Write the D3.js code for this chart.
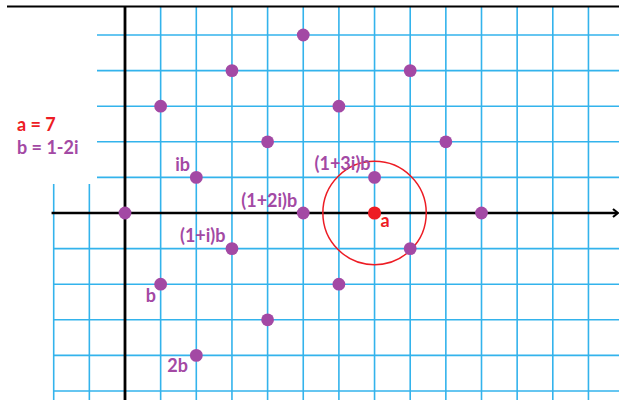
<!DOCTYPE html>
<html>
<head>
<meta charset="utf-8">
<script src="https://cdn.jsdelivr.net/npm/d3@7"></script>
<style>
  body { margin: 0; background: #fff; }
  svg { display: block; }
  .lbl { font-family: Lato, "Open Sans", sans-serif; font-weight: bold; font-size: 18px; }
</style>
</head>
<body>
<div id="container"></div>
<script>
// grid lines (real / imaginary parts)
let gridRe = [-2, -1, 1, 2, 3, 4, 5, 6, 7, 8, 9, 10, 11, 12, 13];
let gridIm = [5, 4, 3, 2, 1, -1, -2, -3, -4, -5];

// lattice points m*b + n*ib, b = 1-2i  (re, im)
let latRe = [0, 1, 2, 2, 3, 5, 7, 1, 3, 5, 4, 6, 8, 9, 10, 8, 6, 4];
let latIm = [0, -2, -4, 1, -1, 0, 1, 3, 4, 5, 2, 3, 4, 2, 0, -1, -2, -3];

// a = 7
let aRe = 7, aIm = 0;
let circleR = 1.45;

// labels next to points
let labelText = ["b", "2b", "ib", "(1+i)b", "(1+2i)b", "(1+3i)b"];
let labelRe   = [1, 2, 2, 3, 5, 7];
let labelIm   = [-2, -4, 1, -1, 0, 1];

let w = 619;
let h = 400;
let purple = "#a349a4";
let red = "#ed1c24";
let blue = "#33b3ec";

let viz = d3.select("#container")
    .append("svg")
    .attr("width", w)
    .attr("height", h);

// 1 unit = ~35.65px, origin at (125, 213)
let xScale = d3.scaleLinear().domain([0, 10]).range([125, 481.5]);
let yScale = d3.scaleLinear().domain([0, 5]).range([213, 35]);

// white label box covers top-left of grid
let boxRight = 97, boxBottom = 184;

let grid = viz.append("g").attr("stroke", blue).attr("stroke-width", 1.6);

grid.selectAll(".vline").data(gridRe).enter().append("line")
    .attr("x1", d => xScale(d)).attr("x2", d => xScale(d))
    .attr("y1", d => xScale(d) < boxRight ? boxBottom : 7)
    .attr("y2", h);

grid.selectAll(".hline").data(gridIm).enter().append("line")
    .attr("y1", d => yScale(d)).attr("y2", d => yScale(d))
    .attr("x1", d => yScale(d) < boxBottom ? boxRight : xScale(-2))
    .attr("x2", w);

// axes
let axes = viz.append("g").attr("stroke", "#000");
axes.append("line")
    .attr("x1", 7).attr("x2", w).attr("y1", 6.5).attr("y2", 6.5)
    .attr("stroke-width", 2);
axes.append("line")
    .attr("x1", xScale(-2.06)).attr("x2", 617)
    .attr("y1", yScale(0)).attr("y2", yScale(0))
    .attr("stroke-width", 2.5);
axes.append("line")
    .attr("x1", xScale(0)).attr("x2", xScale(0))
    .attr("y1", 6).attr("y2", h)
    .attr("stroke-width", 2.8);
axes.append("path")
    .attr("d", "M613," + (yScale(0) - 4) + " L618," + yScale(0) + " L613," + (yScale(0) + 4))
    .attr("fill", "none")
    .attr("stroke-width", 2.2);

// red circle around a
viz.append("circle")
    .attr("cx", xScale(aRe)).attr("cy", yScale(aIm))
    .attr("r", xScale(circleR) - xScale(0))
    .attr("fill", "none")
    .attr("stroke", red)
    .attr("stroke-width", 1.5);

// lattice points
viz.selectAll(".pt").data(latRe).enter().append("circle")
    .attr("cx", d => xScale(d))
    .attr("cy", (d, i) => yScale(latIm[i]))
    .attr("r", 6.4)
    .attr("fill", purple);

viz.append("circle")
    .attr("cx", xScale(aRe)).attr("cy", yScale(aIm))
    .attr("r", 6.6)
    .attr("fill", red);

// point labels, placed to the left of / above each point
let labelDx = [-15, -29, -21, -52, -62, -60];
let labelDy = [18, 17, -6, -7, -6, -7];

viz.selectAll(".plbl").data(labelText).enter().append("text")
    .attr("class", "lbl")
    .attr("fill", purple)
    .attr("x", (d, i) => xScale(labelRe[i]) + labelDx[i])
    .attr("y", (d, i) => yScale(labelIm[i]) + labelDy[i])
    .text(d => d);

viz.append("text").attr("class", "lbl").attr("fill", red)
    .attr("x", xScale(aRe) + 6).attr("y", yScale(aIm) + 14)
    .text("a");

viz.append("text").attr("class", "lbl").attr("fill", red)
    .attr("x", 17).attr("y", 131)
    .text("a = 7");
viz.append("text").attr("class", "lbl").attr("fill", purple)
    .attr("x", 17).attr("y", 154)
    .text("b = 1-2i");
</script>
</body>
</html>
